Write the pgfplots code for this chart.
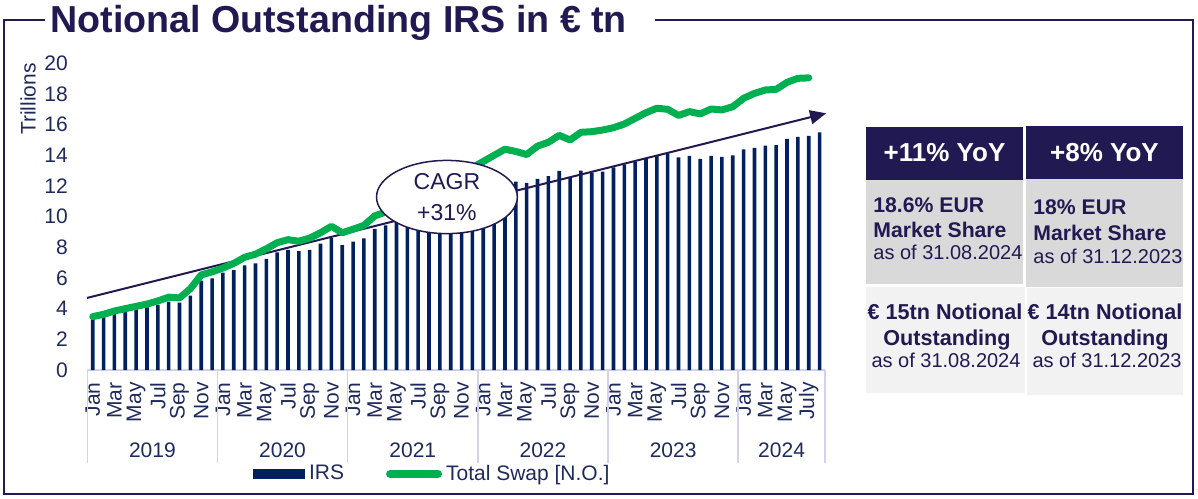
\documentclass[border=0pt]{standalone}
\usepackage{fontspec}
\setmainfont{Liberation Sans}
\usepackage{pgfplots}
\pgfplotsset{compat=1.18}
\usetikzlibrary{arrows.meta,shapes.geometric}

\definecolor{titlenavy}{HTML}{211A52}
\definecolor{barnavy}{HTML}{002060}
\definecolor{txtnavy}{HTML}{1F2A5C}
\definecolor{swapgreen}{HTML}{00B050}
\definecolor{catline}{HTML}{D4D0F0}
\definecolor{boxgray}{HTML}{D9D9D9}
\definecolor{boxlight}{HTML}{F2F2F2}
\newcommand\fsz[2]{\fontsize{#1}{#2}\selectfont}

\begin{document}
\begin{tikzpicture}[x=0.5pt,y=0.5pt]
\useasboundingbox (0,0) rectangle (1198,498);
% frame with title gap
\draw[titlenavy, line width=1pt] (45,478) -- (4,478) -- (4,4) -- (1193,4) -- (1193,478) -- (655,478);
\node[anchor=base west, inner sep=0pt, text=titlenavy, font=\fsz{18.8}{20}\bfseries] at (50,465) {Notional Outstanding IRS in € tn};
\node[rotate=90, inner sep=0pt, text=txtnavy, font=\fsz{10.5}{12}] at (28,399) {Trillions};

\begin{axis}[
    at={(43.65pt,64pt)}, anchor=south west,
    scale only axis,
    width=368.85pt, height=153.35pt,
    xmin=-0.5, xmax=67.5,
    ymin=0, ymax=20,
    axis line style={draw=none},
    major tick length=0pt,
    clip=false,
    xtick={0,2,...,66},
    xticklabels={Jan,Mar,May,Jul,Sep,Nov,Jan,Mar,May,Jul,Sep,Nov,Jan,Mar,May,Jul,Sep,Nov,
                 Jan,Mar,May,Jul,Sep,Nov,Jan,Mar,May,Jul,Sep,Nov,Jan,Mar,May,July},
    xticklabel style={rotate=90, anchor=east, inner sep=0pt, font=\fsz{10.5}{12}, text=txtnavy},
    xticklabel shift=6pt,
    ytick={0,2,...,20},
    yticklabel style={anchor=east, inner sep=0pt, font=\fsz{10.5}{12}, text=txtnavy},
    yticklabel shift=9.6pt,
    /pgf/number format/assume math mode=true,
    legend columns=2,
    legend cell align=left,
    legend style={at={(0.469,-0.339)}, anchor=center, draw=none, fill=none,
        font=\fsz{10.5}{12}, text=txtnavy,
        /tikz/every even column/.append style={column sep=19pt}},
]
% category axis lines
\draw[catline, line width=0.75pt] (axis cs:-0.5,0) -- (axis cs:67.5,0);
\pgfplotsinvokeforeach{-0.5,11.5,23.5,35.5,47.5,59.5,67.5}{
  \draw[catline, line width=0.75pt] (axis cs:#1,0) -- ++(0pt,-46.5pt);
}
\node[text=txtnavy, font=\fsz{10.5}{12}] at (axis cs:5.5,0) [yshift=-40pt] {2019};
\node[text=txtnavy, font=\fsz{10.5}{12}] at (axis cs:17.5,0) [yshift=-40pt] {2020};
\node[text=txtnavy, font=\fsz{10.5}{12}] at (axis cs:29.5,0) [yshift=-40pt] {2021};
\node[text=txtnavy, font=\fsz{10.5}{12}] at (axis cs:41.5,0) [yshift=-40pt] {2022};
\node[text=txtnavy, font=\fsz{10.5}{12}] at (axis cs:53.5,0) [yshift=-40pt] {2023};
\node[text=txtnavy, font=\fsz{10.5}{12}] at (axis cs:63.5,0) [yshift=-40pt] {2024};

\addplot[ybar, bar width=1.8pt, bar shift=0pt, fill=barnavy, draw=none,
    legend image code/.code={\fill[barnavy] (0pt,-2.5pt) rectangle (26pt,2.5pt);}]
coordinates {
(0,3.30) (1,3.48) (2,3.70) (3,3.83) (4,4.02) (5,4.09) (6,4.24) (7,4.46) (8,4.39) (9,4.85)
(10,5.83) (11,5.98) (12,6.35) (13,6.52) (14,6.83) (15,6.96) (16,7.24) (17,7.67) (18,7.83) (19,7.76)
(20,7.83) (21,8.24) (22,8.60) (23,8.15) (24,8.37) (25,8.59) (26,9.20) (27,9.43) (28,9.65) (29,9.85)
(30,10.05) (31,10.25) (32,10.45) (33,10.65) (34,10.90) (35,11.20) (36,11.50) (37,11.80) (38,12.05) (39,12.28)
(40,12.20) (41,12.46) (42,12.65) (43,12.98) (44,12.54) (45,13.00) (46,12.87) (47,12.93) (48,13.22) (49,13.41)
(50,13.59) (51,13.76) (52,13.96) (53,14.13) (54,13.87) (55,13.96) (56,13.76) (57,13.96) (58,13.89) (59,14.00)
(60,14.39) (61,14.48) (62,14.63) (63,14.67) (64,15.07) (65,15.20) (66,15.26) (67,15.50)
};
\addlegendentry{IRS}

% trend arrow
\draw[titlenavy, line width=1pt, -{Triangle[length=8pt,width=7pt]}] (axis cs:-0.53,4.70) -- (axis cs:67.6,16.74);

\addplot[swapgreen, line width=3.5pt, line join=round, line cap=round,
    legend image code/.code={\draw[swapgreen, line width=4pt, line cap=round] (2pt,0pt) -- (26pt,0pt);}]
coordinates {
(0,3.48) (1,3.63) (2,3.85) (3,4.00) (4,4.15) (5,4.30) (6,4.50) (7,4.75) (8,4.70) (9,5.30)
(10,6.20) (11,6.40) (12,6.65) (13,6.95) (14,7.35) (15,7.55) (16,7.90) (17,8.30) (18,8.50) (19,8.40)
(20,8.60) (21,8.95) (22,9.37) (23,8.95) (24,9.18) (25,9.43) (26,10.05) (27,10.30) (28,10.60) (29,10.95)
(30,11.30) (31,11.65) (32,12.00) (33,12.40) (34,12.80) (35,13.20) (36,13.60) (37,14.00) (38,14.40) (39,14.25)
(40,14.05) (41,14.60) (42,14.85) (43,15.30) (44,15.00) (45,15.50) (46,15.54) (47,15.65) (48,15.80) (49,16.04)
(50,16.41) (51,16.78) (52,17.07) (53,17.00) (54,16.60) (55,16.85) (56,16.70) (57,17.02) (58,16.96) (59,17.17)
(60,17.72) (61,18.04) (62,18.26) (63,18.30) (64,18.76) (65,19.02) (66,19.05)
};
\addlegendentry{Total Swap [N.O.]}

\node[draw=titlenavy, line width=0.75pt, fill=white, ellipse, minimum width=70.4pt, minimum height=36.6pt,
      inner sep=0pt, align=center, text=titlenavy, font=\fsz{11.5}{15.5}] at (axis cs:32.65,11.28) {CAGR\\+31\%};
\end{axis}

% right panel
\fill[titlenavy] (866,318) rectangle (1023,371);
\fill[titlenavy] (1026,319) rectangle (1183,372);
\fill[boxgray] (866,214) rectangle (1023,318);
\fill[boxgray] (1026,211) rectangle (1183,319);
\fill[boxlight] (866,105) rectangle (1025,211);
\fill[boxlight] (1027,103) rectangle (1183,210);

\node[anchor=base, inner sep=0pt, text=white, font=\fsz{13}{15}\bfseries] at (944.5,336) {+11\% YoY};
\node[anchor=base, inner sep=0pt, text=white, font=\fsz{13}{15}\bfseries] at (1104.5,336) {+8\% YoY};

\node[anchor=base west, inner sep=0pt, text=titlenavy, font=\fsz{10.6}{12}\bfseries] at (873,285.5) {18.6\% EUR};
\node[anchor=base west, inner sep=0pt, text=titlenavy, font=\fsz{10.6}{12}\bfseries] at (873,260.5) {Market Share};
\node[anchor=base west, inner sep=0pt, text=titlenavy, font=\fsz{10}{12}] at (873,238) {as of 31.08.2024};
\node[anchor=base west, inner sep=0pt, text=titlenavy, font=\fsz{10.6}{12}\bfseries] at (1033,283.5) {18\% EUR};
\node[anchor=base west, inner sep=0pt, text=titlenavy, font=\fsz{10.6}{12}\bfseries] at (1033,257.5) {Market Share};
\node[anchor=base west, inner sep=0pt, text=titlenavy, font=\fsz{10}{12}] at (1033,234) {as of 31.12.2023};

\node[anchor=base, inner sep=0pt, text=titlenavy, font=\fsz{10.8}{12}\bfseries] at (945,178.5) {€ 15tn Notional};
\node[anchor=base, inner sep=0pt, text=titlenavy, font=\fsz{10.8}{12}\bfseries] at (947,152.5) {Outstanding};
\node[anchor=base, inner sep=0pt, text=titlenavy, font=\fsz{10}{12}] at (946,131) {as of 31.08.2024};
\node[anchor=base, inner sep=0pt, text=titlenavy, font=\fsz{10.8}{12}\bfseries] at (1105,178.5) {€ 14tn Notional};
\node[anchor=base, inner sep=0pt, text=titlenavy, font=\fsz{10.8}{12}\bfseries] at (1105,152.5) {Outstanding};
\node[anchor=base, inner sep=0pt, text=titlenavy, font=\fsz{10}{12}] at (1107,131) {as of 31.12.2023};
\end{tikzpicture}
\end{document}
